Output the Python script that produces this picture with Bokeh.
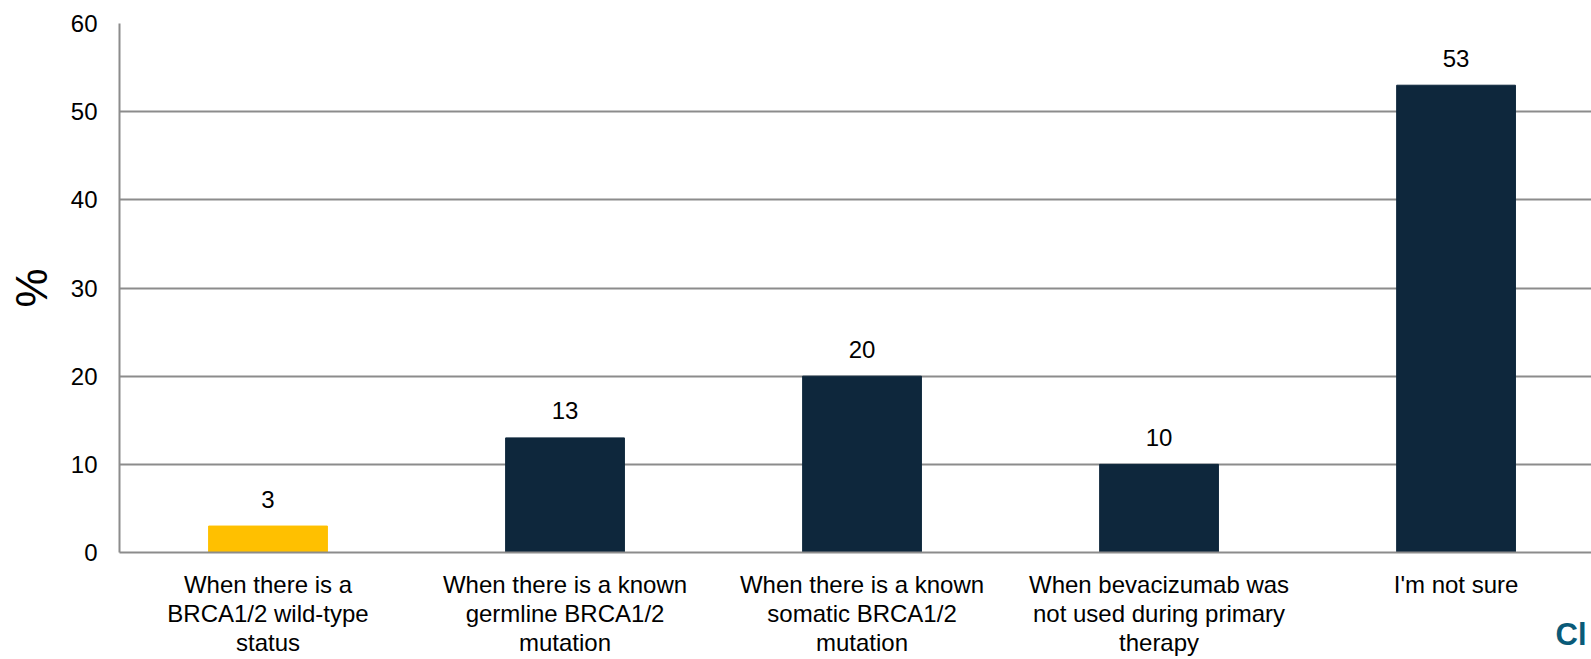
from bokeh.plotting import figure
from bokeh.models import Range1d, FixedTicker, ColumnDataSource, Title
from bokeh.core.properties import value
from bokeh.embed import file_html
from bokeh.resources import INLINE

categories = [
    "When there is a\nBRCA1/2 wild-type\nstatus",
    "When there is a known\ngermline BRCA1/2\nmutation",
    "When there is a known\nsomatic BRCA1/2\nmutation",
    "When bevacizumab was\nnot used during primary\ntherapy",
    "I'm not sure",
]
values = [3, 13, 20, 10, 53]
bar_colors = ["#FFC000", "#0E273C", "#0E273C", "#0E273C", "#0E273C"]
y_ticks = [0, 10, 20, 30, 40, 50, 60]

FONT = "Liberation Sans"
GRID = "#8C8C8C"

positions = list(range(len(categories)))
source = ColumnDataSource(dict(
    x=positions,
    top=values,
    color=bar_colors,
    label=[str(v) for v in values],
))

p = figure(
    width=1591, height=659,
    x_range=Range1d(-0.5, 4.456),
    y_range=Range1d(0, 60),
    output_backend="svg", toolbar_location=None,
    min_border_left=119, min_border_top=23,
    min_border_bottom=107, min_border_right=0,
)
p.outline_line_color = None
p.background_fill_color = "white"
p.border_fill_color = "white"

p.vbar(x="x", top="top", width=0.4, color="color", source=source)
p.text(x="x", y="top", text="label", source=source,
       text_align="center", text_baseline="alphabetic", y_offset=-27,
       text_font=value(FONT), text_font_size="24px", text_color="#000000")

# x axis with wrapped category labels
p.xaxis.ticker = FixedTicker(ticks=positions)
p.xaxis.major_label_overrides = {i: c for i, c in enumerate(categories)}
p.xaxis.major_tick_line_color = None
p.xaxis.minor_tick_line_color = None
p.xaxis.major_tick_out = 0
p.xaxis.major_label_standoff = 18
p.xaxis.axis_line_color = GRID
p.xaxis.axis_line_width = 2
p.xaxis.major_label_text_font = FONT
p.xaxis.major_label_text_font_size = "24px"
p.xaxis.major_label_text_line_height = 1.08
p.xaxis.major_label_text_color = "#000000"
p.xaxis.major_label_text_align = "center"
p.xgrid.grid_line_color = None

# y axis
p.yaxis.ticker = FixedTicker(ticks=y_ticks)
p.yaxis.major_tick_line_color = None
p.yaxis.minor_tick_line_color = None
p.yaxis.major_tick_out = 0
p.yaxis.major_label_standoff = 22
p.yaxis.axis_line_color = GRID
p.yaxis.axis_line_width = 2
p.yaxis.major_label_text_font = FONT
p.yaxis.major_label_text_font_size = "24px"
p.yaxis.major_label_text_color = "#000000"
p.yaxis.axis_label = "%"
p.yaxis.axis_label_text_font = FONT
p.yaxis.axis_label_text_font_size = "44px"
p.yaxis.axis_label_text_font_style = "normal"
p.yaxis.axis_label_text_color = "#000000"
p.yaxis.axis_label_standoff = 12
p.ygrid.grid_line_color = GRID
p.ygrid.grid_line_width = 2

# logo fragment in the bottom right corner; the negative standoff pulls
# it up beside the last line of the category labels without taking room
p.add_layout(Title(text="Cl", align="right", vertical_align="top",
                   standoff=-84, offset=5, text_font=FONT,
                   text_font_size="31px", text_font_style="bold",
                   text_color="#0A5A78"), "below")

open("out.html", "w").write(file_html(p, INLINE))
